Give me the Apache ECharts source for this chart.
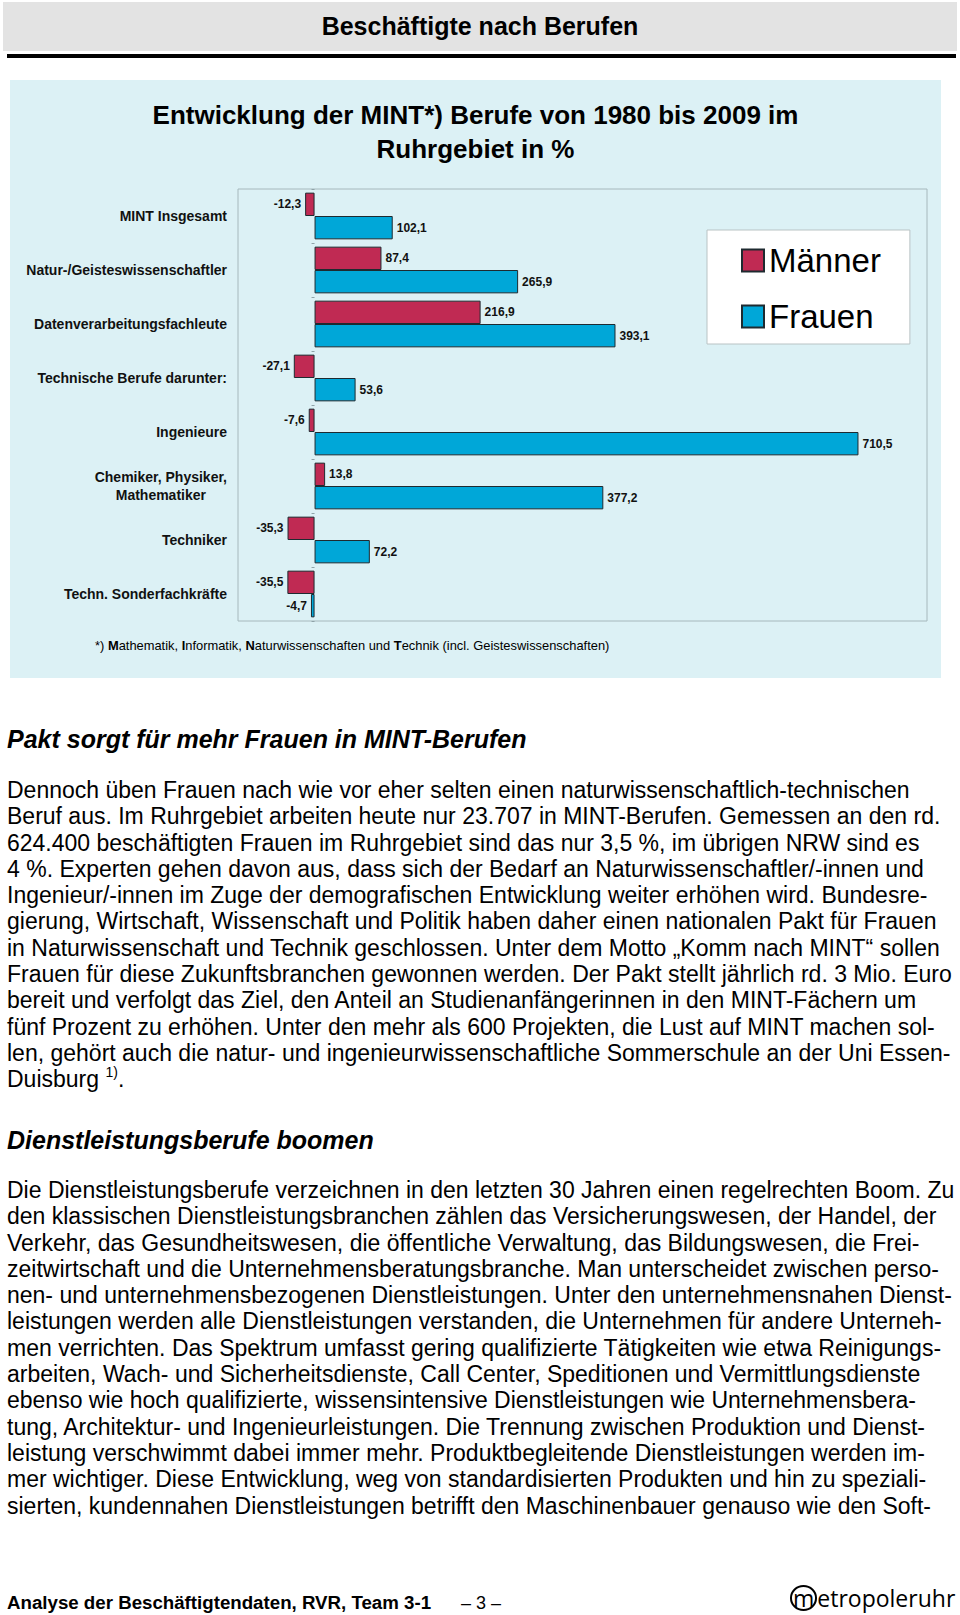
<!DOCTYPE html>
<html>
<head>
<meta charset="utf-8">
<script src="https://cdn.jsdelivr.net/npm/echarts/dist/echarts.min.js"></script>
<style>
  html, body { margin: 0; padding: 0; background: #fff; }
  body { width: 960px; height: 1615px; position: relative; overflow: hidden;
         font-family: "Liberation Sans", Arial, sans-serif; color: #000; }
  .abs { position: absolute; white-space: nowrap; }
  #hdr { left: 3px; top: 2px; width: 954px; height: 49px; background: #e3e3e3;
         font-weight: bold; font-size: 25px; line-height: 49px; text-align: center; }
  #rule { left: 7px; top: 54px; width: 949px; height: 4px; background: #000; }
  #chart { left: 10px; top: 80px; width: 931px; height: 598px; }
  .h2 { font-weight: bold; font-style: italic; font-size: 25px; line-height: 30px; left: 7px; }
  .p { font-size: 23px; line-height: 26.3px; left: 7px; }
  .p sup { font-size: 14px; line-height: 0; vertical-align: 10px; }
  #foot { left: 7px; top: 1591px; font-weight: bold; font-size: 18.7px; line-height: 24px; }
  #page { left: 461px; top: 1591px; font-size: 18px; line-height: 24px; }
  #logo { left: 790px; top: 1584px; font-family: "Open Sans", sans-serif; font-size: 23px; line-height: 28px; }
  #logo span { display: inline-block; border: 2px solid #000; border-radius: 50%; padding: 0 1px; line-height: 22px; height: 22px; }
</style>
</head>
<body>
<div id="hdr" class="abs">Beschäftigte nach Berufen</div>
<div id="rule" class="abs"></div>
<div id="chart" class="abs"></div>

<div class="abs h2" style="top:724px">Pakt sorgt für mehr Frauen in MINT-Berufen</div>
<div class="abs p" style="top:777px">Dennoch üben Frauen nach wie vor eher selten einen naturwissenschaftlich-technischen<br>Beruf aus. Im Ruhrgebiet arbeiten heute nur 23.707 in MINT-Berufen. Gemessen an den rd.<br>624.400 beschäftigten Frauen im Ruhrgebiet sind das nur 3,5 %, im übrigen NRW sind es<br>4 %. Experten gehen davon aus, dass sich der Bedarf an Naturwissenschaftler/-innen und<br>Ingenieur/-innen im Zuge der demografischen Entwicklung weiter erhöhen wird. Bundesre-<br>gierung, Wirtschaft, Wissenschaft und Politik haben daher einen nationalen Pakt für Frauen<br>in Naturwissenschaft und Technik geschlossen. Unter dem Motto „Komm nach MINT“ sollen<br>Frauen für diese Zukunftsbranchen gewonnen werden. Der Pakt stellt jährlich rd. 3 Mio. Euro<br>bereit und verfolgt das Ziel, den Anteil an Studienanfängerinnen in den MINT-Fächern um<br>fünf Prozent zu erhöhen. Unter den mehr als 600 Projekten, die Lust auf MINT machen sol-<br>len, gehört auch die natur- und ingenieurwissenschaftliche Sommerschule an der Uni Essen-<br>Duisburg <sup>1)</sup>.</div>

<div class="abs h2" style="top:1125px">Dienstleistungsberufe boomen</div>
<div class="abs p" style="top:1177px">Die Dienstleistungsberufe verzeichnen in den letzten 30 Jahren einen regelrechten Boom. Zu<br>den klassischen Dienstleistungsbranchen zählen das Versicherungswesen, der Handel, der<br>Verkehr, das Gesundheitswesen, die öffentliche Verwaltung, das Bildungswesen, die Frei-<br>zeitwirtschaft und die Unternehmensberatungsbranche. Man unterscheidet zwischen perso-<br>nen- und unternehmensbezogenen Dienstleistungen. Unter den unternehmensnahen Dienst-<br>leistungen werden alle Dienstleistungen verstanden, die Unternehmen für andere Unterneh-<br>men verrichten. Das Spektrum umfasst gering qualifizierte Tätigkeiten wie etwa Reinigungs-<br>arbeiten, Wach- und Sicherheitsdienste, Call Center, Speditionen und Vermittlungsdienste<br>ebenso wie hoch qualifizierte, wissensintensive Dienstleistungen wie Unternehmensbera-<br>tung, Architektur- und Ingenieurleistungen. Die Trennung zwischen Produktion und Dienst-<br>leistung verschwimmt dabei immer mehr. Produktbegleitende Dienstleistungen werden im-<br>mer wichtiger. Diese Entwicklung, weg von standardisierten Produkten und hin zu speziali-<br>sierten, kundennahen Dienstleistungen betrifft den Maschinenbauer genauso wie den Soft-</div>

<div id="foot" class="abs">Analyse der Beschäftigtendaten, RVR, Team 3-1</div>
<div id="page" class="abs">– 3 –</div>
<div id="logo" class="abs"><span>m</span>etropoleruhr</div>

<script>
// ---- data ----
const categories = [
  'MINT Insgesamt',
  'Natur-/Geisteswissenschaftler',
  'Datenverarbeitungsfachleute',
  'Technische Berufe darunter:',
  'Ingenieure',
  'Chemiker, Physiker,\nMathematiker',
  'Techniker',
  'Techn. Sonderfachkräfte'
];
const seriesNames = ['Männer', 'Frauen'];
const maenner = [-12.3, 87.4, 216.9, -27.1, -7.6, 13.8, -35.3, -35.5];
const frauen  = [102.1, 265.9, 393.1, 53.6, 710.5, 377.2, 72.2, -4.7];

const FONT = '"Liberation Sans", Arial, sans-serif';
const fmt = v => v.toFixed(1).replace('.', ',');
const toItems = arr => arr.map(v => ({ value: v, label: { position: v < 0 ? 'left' : 'right' } }));

const chart = echarts.init(document.getElementById('chart'), null, { renderer: 'svg' });

const barBase = {
  type: 'bar',
  barGap: '0%',
  barCategoryGap: '13.5%',
  label: {
    show: true, distance: 4, fontSize: 12, fontWeight: 'bold', color: '#111', fontFamily: FONT,
    formatter: p => fmt(p.value)
  },
  emphasis: { disabled: true }
};

chart.setOption({
  backgroundColor: '#dcf1f5',
  animation: false,
  textStyle: { fontFamily: FONT },
  legend: {
    data: seriesNames,
    orient: 'vertical',
    left: 697, top: 150,
    icon: 'rect', itemWidth: 22, itemHeight: 22, itemGap: 23,
    backgroundColor: '#ffffff', borderColor: '#b9c3c4', borderWidth: 1,
    padding: [14, 29, 11, 34],
    textStyle: { fontSize: 33, color: '#000', fontFamily: FONT, lineHeight: 33 }
  },
  grid: {
    left: 228, top: 109, width: 689, height: 432,
    show: true, borderColor: '#a6b8bc', borderWidth: 1, backgroundColor: 'transparent',
    containLabel: false
  },
  xAxis: {
    type: 'value', min: -100, max: 800, show: false,
    splitLine: { show: false }
  },
  yAxis: [
    {
      type: 'category', data: categories, inverse: true, position: 'left',
      axisLine: { show: false, onZero: false },
      axisTick: { show: false },
      axisLabel: {
        margin: 11, fontSize: 14, fontWeight: 'bold', color: '#111', fontFamily: FONT,
        lineHeight: 18,
        formatter: v => v.split('\n').map(s => '{c|' + s + '}').join('\n'),
        rich: { c: { align: 'center', fontSize: 14, fontWeight: 'bold', color: '#111', fontFamily: FONT, lineHeight: 18 } }
      }
    },
    {
      type: 'category', data: categories, inverse: true, position: 'left',
      axisLine: { show: true, onZero: true, lineStyle: { color: 'rgba(0,0,0,0)' } },
      axisTick: { show: true, length: 3, lineStyle: { color: '#8fa3a8' } },
      axisLabel: { show: false }
    }
  ],
  series: [
    Object.assign({}, barBase, {
      name: seriesNames[0], data: toItems(maenner),
      itemStyle: { color: '#c02a53', borderColor: '#1e2a30', borderWidth: 1 }
    }),
    Object.assign({}, barBase, {
      name: seriesNames[1], data: toItems(frauen),
      itemStyle: { color: '#00a7d8', borderColor: '#1e2a30', borderWidth: 1 }
    })
  ],
  graphic: [
    {
      type: 'text', x: 465.5, y: 35,
      style: {
        text: 'Entwicklung der MINT*) Berufe von 1980 bis 2009 im\nRuhrgebiet in %',
        fontSize: 26, fontWeight: 'bold', lineHeight: 34, fontFamily: FONT, fill: '#000',
        align: 'center', verticalAlign: 'top'
      },
      y: 18
    },
    {
      type: 'text', x: 85, y: 565,
      style: {
        text: '*) {b|M}athematik, {b|I}nformatik, {b|N}aturwissenschaften und {b|T}echnik (incl. Geisteswissenschaften)',
        fontSize: 12.9, fontFamily: FONT, fill: '#000', verticalAlign: 'middle',
        rich: { b: { fontWeight: 'bold', fontSize: 12.9, fontFamily: FONT, fill: '#000' } }
      }
    }
  ]
});
</script>
</body>
</html>
